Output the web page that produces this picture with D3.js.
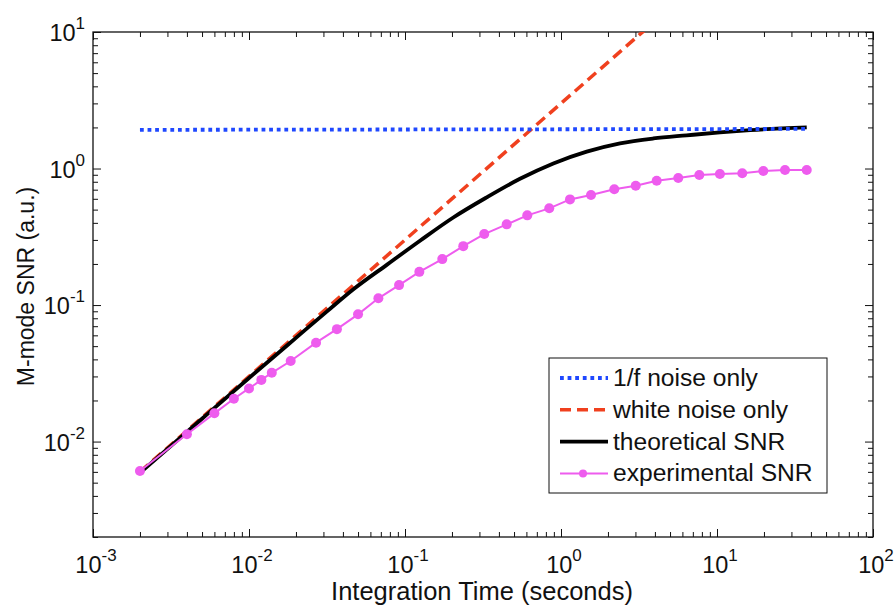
<!DOCTYPE html>
<html><head><meta charset="utf-8">
<script src="https://cdn.jsdelivr.net/npm/d3@7"></script>
<style>
html,body{margin:0;padding:0;background:#fff;}
text{font-family:"Liberation Sans",Arial,sans-serif;fill:#111;}
</style></head>
<body>
<svg id="c" width="895" height="607"></svg>
<script>
// ---- data ----
const xTickExps = [-3, -2, -1, 0, 1, 2];
const yTickExps = [-2, -1, 0, 1];

const oneOverF_t = [0.002, 37.6];
const oneOverF_v = [1.92, 1.95];

const white_t = [0.002, 3.4];
const white_v = [0.006, 10.2];

const theo_t = [0.002, 0.005, 0.01, 0.02, 0.0315, 0.0467, 0.0764, 0.1248, 0.204, 0.334, 0.546, 0.893, 1.462, 2.39, 3.91, 6.39, 10.45, 16.3, 37.6];
const theo_v = [0.0059, 0.0147, 0.0292, 0.0575, 0.0895, 0.1305, 0.197, 0.296, 0.438, 0.615, 0.841, 1.09, 1.33, 1.53, 1.66, 1.75, 1.84, 1.91, 2.0];

const exp_t = [0.002, 0.004, 0.006, 0.008, 0.010, 0.012, 0.014, 0.0185, 0.0269, 0.0366, 0.050, 0.0675, 0.0916, 0.1236, 0.1734, 0.2364, 0.3222, 0.4487, 0.6081, 0.841, 1.142, 1.557, 2.196, 3.013, 4.106, 5.646, 7.703, 10.44, 14.52, 19.81, 27.29, 37.6];
const exp_v = [0.00608, 0.0113, 0.0161, 0.0206, 0.0245, 0.0283, 0.0319, 0.0389, 0.0530, 0.0666, 0.0855, 0.112, 0.140, 0.175, 0.217, 0.270, 0.331, 0.390, 0.454, 0.511, 0.594, 0.639, 0.704, 0.748, 0.814, 0.852, 0.896, 0.911, 0.923, 0.959, 0.975, 0.975];

const legendLabels = ["1/f noise only", "white noise only", "theoretical SNR", "experimental SNR"];

// ---- layout ----
const L = 93, R = 873, T = 32, B = 537;
const svg = d3.select("#c");
const x = d3.scaleLog().domain([1e-3, 1e2]).range([L, R]);
const y = d3.scaleLog().domain([0.002, 10]).range([B, T]);

svg.append("defs").append("clipPath").attr("id", "clip")
  .append("rect").attr("x", L).attr("y", T).attr("width", R - L).attr("height", B - T);

function allTicks(lo, hi) {
  const out = [];
  for (let e = Math.floor(Math.log10(lo)); e <= Math.ceil(Math.log10(hi)); e++) {
    for (let m = 1; m <= 9; m++) {
      const v = m * Math.pow(10, e);
      if (v >= lo * 0.9999 && v <= hi * 1.0001) out.push(v);
    }
  }
  return out;
}
const isMajor = v => Math.abs(Math.log10(v) - Math.round(Math.log10(v))) < 1e-6;
const xt = allTicks(1e-3, 1e2), yt = allTicks(0.002, 10);

function styleAxis(g, sign, horiz) {
  g.select(".domain").remove();
  g.selectAll(".tick line").attr("stroke", "#111").attr("stroke-width", 1)
    .each(function(d) {
      const len = isMajor(d) ? 8 : 5;
      if (horiz) d3.select(this).attr("y2", sign * len);
      else d3.select(this).attr("x2", sign * len);
    });
  g.selectAll(".tick text").remove();
}
svg.append("g").attr("transform", `translate(0,${B})`).call(d3.axisBottom(x).tickValues(xt).tickFormat(() => "")).call(g => styleAxis(g, -1, true));
svg.append("g").attr("transform", `translate(0,${T})`).call(d3.axisTop(x).tickValues(xt).tickFormat(() => "")).call(g => styleAxis(g, 1, true));
svg.append("g").attr("transform", `translate(${L},0)`).call(d3.axisLeft(y).tickValues(yt).tickFormat(() => "")).call(g => styleAxis(g, 1, false));
svg.append("g").attr("transform", `translate(${R},0)`).call(d3.axisRight(y).tickValues(yt).tickFormat(() => "")).call(g => styleAxis(g, -1, false));

svg.append("rect").attr("x", L).attr("y", T).attr("width", R - L).attr("height", B - T)
  .attr("fill", "none").attr("stroke", "#111").attr("stroke-width", 1.3);

// tick labels
function powLabel(sel, e) {
  sel.append("tspan").attr("font-size", 23.5).text("10");
  sel.append("tspan").attr("font-size", 17).attr("dy", -12).text(String(e));
}
xTickExps.forEach(e => {
  const t = svg.append("text").attr("x", x(Math.pow(10, e)) + 3).attr("y", 573).attr("text-anchor", "middle");
  powLabel(t, e);
});
yTickExps.forEach(e => {
  const t = svg.append("text").attr("x", 85).attr("y", y(Math.pow(10, e)) + 9).attr("text-anchor", "end");
  powLabel(t, e);
});

// axis titles
svg.append("text").attr("x", 482).attr("y", 600).attr("text-anchor", "middle").attr("font-size", 25.5)
  .text("Integration Time (seconds)");
svg.append("text").attr("transform", `translate(34,${(T + B) / 2 + 2}) rotate(-90)`).attr("text-anchor", "middle")
  .attr("font-size", 23).text("M-mode SNR (a.u.)");

// series
const line = d3.line().x(d => x(d[0])).y(d => y(d[1]));
const smooth = d3.line().x(d => x(d[0])).y(d => y(d[1])).curve(d3.curveMonotoneX);
const zip = (a, b) => a.map((v, i) => [v, b[i]]);
const plot = svg.append("g").attr("clip-path", "url(#clip)");

const st = {
  blue: {stroke: "#1f48ff", width: 3.8, dash: "3.8,3.8"},
  red: {stroke: "#f0401e", width: 3.5, dash: "11,6"},
  black: {stroke: "#000", width: 3.8, dash: null},
  pink: {stroke: "#ee5cee", width: 2, dash: null}
};
function drawLine(data, s, gen) {
  plot.append("path").datum(data).attr("d", gen || line).attr("fill", "none")
    .attr("stroke", s.stroke).attr("stroke-width", s.width).attr("stroke-dasharray", s.dash);
}
drawLine(zip(white_t, white_v), st.red);
drawLine(zip(theo_t, theo_v), st.black, smooth);
drawLine(zip(oneOverF_t, oneOverF_v), st.blue);
drawLine(zip(exp_t, exp_v), st.pink);
plot.selectAll("circle.m").data(zip(exp_t, exp_v)).enter().append("circle")
  .attr("cx", d => x(d[0])).attr("cy", d => y(d[1])).attr("r", 5).attr("fill", st.pink.stroke);

// legend
const lg = svg.append("g");
lg.append("rect").attr("x", 549).attr("y", 358).attr("width", 278).attr("height", 135)
  .attr("fill", "#fff").attr("stroke", "#111").attr("stroke-width", 1);
const keys = [st.blue, st.red, st.black, st.pink];
legendLabels.forEach((lab, i) => {
  const yy = 378 + i * 31.8;
  lg.append("line").attr("x1", 560).attr("x2", 608).attr("y1", yy).attr("y2", yy)
    .attr("stroke", keys[i].stroke).attr("stroke-width", keys[i].width).attr("stroke-dasharray", keys[i].dash);
  if (i === 3) lg.append("circle").attr("cx", 583).attr("cy", yy).attr("r", 4).attr("fill", keys[i].stroke);
  lg.append("text").attr("x", 613).attr("y", yy + 8).attr("font-size", 24.6).text(lab);
});
</script>
</body></html>
